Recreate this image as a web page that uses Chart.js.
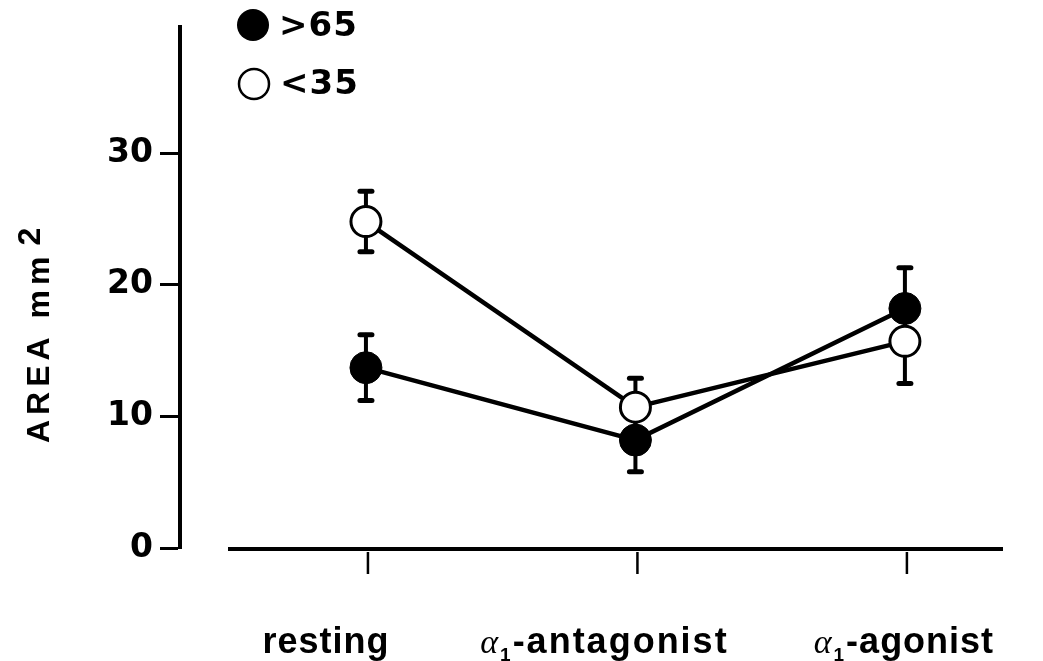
<!DOCTYPE html>
<html>
<head>
<meta charset="utf-8">
<script src="https://cdn.jsdelivr.net/npm/chart.js@4.4.0/dist/chart.umd.min.js"></script>
<style>
  html, body { margin: 0; padding: 0; background: #fff; }
  #wrap { width: 1043px; height: 661px; }
</style>
</head>
<body>
<div id="wrap"><canvas id="chart" width="1043" height="661"></canvas></div>
<script>
// ===============================
// DATA
// ===============================
const CATEGORIES = ["resting", "α1-antagonist", "α1-agonist"];
const OLD_MEAN = [13.7, 8.2, 18.2];     // >65, filled
const OLD_ERR = [2.5, 2.4, 3.1];
const YOUNG_MEAN = [24.8, 10.7, 15.7];  // <35, open
const YOUNG_ERR = [2.3, 2.2, 3.2];
const Y_TICKS = [0, 10, 20, 30];
const Y_MAX = 39.6;
const Y_TITLE = "AREA mm";
const Y_TITLE_SUP = "2";

// label nudges (the printed labels are not centred on their ticks)
const LABEL_NUDGE = [-39, -30, 0];

function toPoints(vals) {
  return vals.map((v, i) => ({ x: i, y: v }));
}

// ===============================
// ERROR BARS (under the points)
// ===============================
const errorBars = {
  id: "errorBars",
  beforeDatasetsDraw(chart) {
    const ctx = chart.ctx;
    const xs = chart.scales.x, ys = chart.scales.y;
    const sets = [[OLD_MEAN, OLD_ERR], [YOUNG_MEAN, YOUNG_ERR]];
    ctx.save();
    ctx.strokeStyle = "#000";
    ctx.lineCap = "round";
    sets.forEach(([mean, err]) => {
      mean.forEach((m, i) => {
        const x = xs.getPixelForValue(i);
        const yTop = ys.getPixelForValue(m + err[i]);
        const yBot = ys.getPixelForValue(m - err[i]);
        ctx.lineWidth = 4;
        ctx.beginPath();
        ctx.moveTo(x, yTop);
        ctx.lineTo(x, yBot);
        ctx.stroke();
        ctx.lineWidth = 5;
        [yTop, yBot].forEach(y => {
          ctx.beginPath();
          ctx.moveTo(x - 6, y);
          ctx.lineTo(x + 6, y);
          ctx.stroke();
        });
      });
    });
    ctx.restore();
  }
};

// ===============================
// X AXIS, LABELS, TITLE, LEGEND
// ===============================
function drawCatLabel(ctx, label, cx, baseline) {
  const parts = [];
  let rest = label;
  if (label.startsWith("α1")) {
    parts.push({ t: "α", font: 'italic 34px "Liberation Serif"', dy: 0, ls: "0px" });
    parts.push({ t: "1", font: 'bold 19px "Liberation Sans"', dy: 8, ls: "0px" });
    rest = label.slice(2);
  }
  parts.push({ t: rest, font: 'bold 36px "Liberation Sans"', dy: 0, ls: label.length > 12 ? "2px" : "1px" });

  let total = 0;
  parts.forEach(p => {
    ctx.font = p.font;
    ctx.letterSpacing = p.ls;
    p.w = ctx.measureText(p.t).width;
    total += p.w + 2;
  });
  let x = cx - total / 2;
  parts.forEach(p => {
    ctx.font = p.font;
    ctx.letterSpacing = p.ls;
    ctx.fillText(p.t, x, baseline + p.dy);
    x += p.w + 2;
  });
  ctx.letterSpacing = "0px";
}

const decorations = {
  id: "decorations",
  afterDraw(chart) {
    const ctx = chart.ctx;
    const xs = chart.scales.x, ys = chart.scales.y;
    const y0 = ys.getPixelForValue(0) + 1;
    ctx.save();
    ctx.fillStyle = "#000";
    ctx.strokeStyle = "#000";

    // x axis line (detached from the y axis)
    ctx.lineWidth = 4;
    ctx.beginPath();
    ctx.moveTo(228, y0);
    ctx.lineTo(1003, y0);
    ctx.stroke();

    // x ticks + category labels
    ctx.textBaseline = "alphabetic";
    ctx.textAlign = "left";
    CATEGORIES.forEach((c, i) => {
      const x = xs.getPixelForValue(i) + 2;
      ctx.lineWidth = 2.5;
      ctx.beginPath();
      ctx.moveTo(x, y0 + 3);
      ctx.lineTo(x, y0 + 25);
      ctx.stroke();
      drawCatLabel(ctx, c, xs.getPixelForValue(i) + LABEL_NUDGE[i], 653);
    });

    // y title, rotated, with raised "2"
    ctx.save();
    ctx.translate(40, 443);
    ctx.rotate(-Math.PI / 2);
    ctx.font = 'bold 32px "Liberation Sans"';
    ctx.letterSpacing = "5px";
    ctx.textBaseline = "middle";
    ctx.textAlign = "left";
    ctx.fillText(Y_TITLE, 0, 0);
    const w = ctx.measureText(Y_TITLE).width;
    ctx.fillText(Y_TITLE_SUP, w + 6, -9);
    ctx.restore();

    // legend
    const ds = chart.data.datasets;
    ctx.font = 'bold 34px "DejaVu Sans"';
    ctx.letterSpacing = "1px";
    ctx.textBaseline = "middle";
    ctx.beginPath();
    ctx.arc(253, 25, 16, 0, Math.PI * 2);
    ctx.fill();
    ctx.fillText(ds[0].label, 279, 27);
    ctx.lineWidth = 2.5;
    ctx.beginPath();
    ctx.arc(254, 84, 15, 0, Math.PI * 2);
    ctx.stroke();
    ctx.fillText(ds[1].label, 280, 85);
    ctx.letterSpacing = "0px";
    ctx.restore();
  }
};

// ===============================
// CHART
// ===============================
const chart = new Chart(document.getElementById("chart"), {
  type: "line",
  data: {
    datasets: [
      {
        label: ">65",
        data: toPoints(OLD_MEAN),
        borderColor: "#000",
        borderWidth: 4.5,
        pointRadius: 16,
        pointBackgroundColor: "#000",
        pointBorderColor: "#000",
        pointBorderWidth: 1,
        tension: 0
      },
      {
        label: "<35",
        data: toPoints(YOUNG_MEAN),
        borderColor: "#000",
        borderWidth: 4.5,
        pointRadius: 15,
        pointBackgroundColor: "#fff",
        pointBorderColor: "#000",
        pointBorderWidth: 3,
        tension: 0
      }
    ]
  },
  options: {
    responsive: false,
    animation: false,
    devicePixelRatio: 1,
    events: [],
    layout: { padding: { left: 0, top: 22, right: 40, bottom: 113 } },
    plugins: {
      legend: { display: false },
      tooltip: { enabled: false }
    },
    scales: {
      x: {
        type: "linear",
        display: false,
        min: -0.69,
        max: 2.364
      },
      y: {
        min: 0,
        max: Y_MAX,
        afterFit: s => { s.width = 180; },
        afterBuildTicks: s => { s.ticks = Y_TICKS.map(v => ({ value: v })); },
        border: { display: true, color: "#000", width: 4 },
        grid: {
          drawOnChartArea: false,
          drawTicks: true,
          tickLength: 20,
          tickWidth: 3,
          tickColor: "#000"
        },
        ticks: {
          color: "#000",
          padding: 7,
          font: { family: "DejaVu Sans", weight: "bold", size: 33 }
        }
      }
    }
  },
  plugins: [errorBars, decorations]
});
</script>
</body>
</html>
